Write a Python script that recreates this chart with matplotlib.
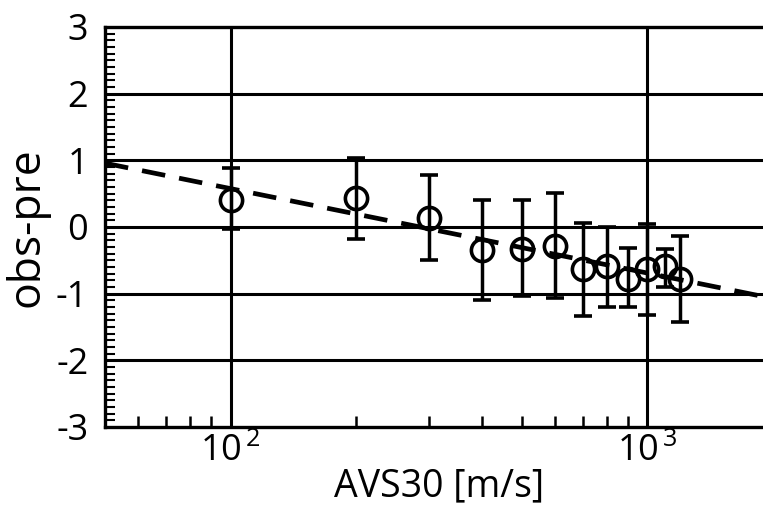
import numpy as np
import matplotlib
matplotlib.use("Agg")
import matplotlib.pyplot as plt
from matplotlib.ticker import MultipleLocator, LogLocator, FixedLocator, FuncFormatter

plt.rcParams['font.family'] = ['Open Sans', 'DejaVu Sans']
plt.rcParams['mathtext.fontset'] = 'custom'
plt.rcParams['mathtext.rm'] = 'Open Sans'
plt.rcParams['mathtext.it'] = 'Open Sans'
plt.rcParams['axes.unicode_minus'] = False

# Data
avs30 = [100, 200, 300, 400, 500, 600, 700, 800, 900, 1000, 1100, 1200]
mean_res = [0.40, 0.43, 0.135, -0.345, -0.33, -0.28, -0.63, -0.58, -0.78, -0.63, -0.58, -0.78]
err_top = [0.88, 1.03, 0.78, 0.40, 0.40, 0.51, 0.06, 0.00, -0.32, 0.04, -0.33, -0.13]
err_bot = [-0.03, -0.18, -0.49, -1.09, -1.03, -1.07, -1.33, -1.20, -1.20, -1.32, -0.90, -1.42]
fit_intercept = 3.11
fit_slope = -1.267
xlim = (50, 2000)
ylim = (-3, 3)
x_major = [100, 1000]
x_major_labels = [r'$10^{\,2}$', r'$10^{\,3}$']
y_major = [-3, -2, -1, 0, 1, 2, 3]

fig = plt.figure(figsize=(7.63, 5.07), dpi=100)
ax = fig.add_axes([105/763, 1-427/507, (773-105)/763, 400/507])

x = np.array(avs30, dtype=float)
m = np.array(mean_res)
yerr = np.vstack([m - np.array(err_bot), np.array(err_top) - m])

ax.set_xscale('log')
ax.set_xlim(*xlim)
ax.set_ylim(*ylim)

for gy in y_major[1:-1]:
    ax.axhline(gy, color='black', lw=2.2, zorder=1)
for gx in x_major:
    ax.axvline(gx, color='black', lw=2.2, zorder=1)

xf = np.logspace(np.log10(xlim[0]), np.log10(xlim[1]), 100)
ax.plot(xf, fit_intercept + fit_slope*np.log10(xf), color='black', lw=3.4,
        dashes=(5, 3), zorder=3)

ax.errorbar(x, m, yerr=yerr, fmt='o', mfc='none', mec='black', mew=2.6,
            ms=16, ecolor='black', elinewidth=2.5, capsize=6.5, capthick=2.5,
            color='black', zorder=4)

ax.yaxis.set_major_locator(FixedLocator(y_major))
ax.yaxis.set_minor_locator(MultipleLocator(0.1))
ax.set_xticks(x_major)
ax.set_xticklabels(x_major_labels)
ax.xaxis.set_minor_locator(LogLocator(base=10, subs=np.arange(2, 10), numticks=10))
ax.xaxis.set_minor_formatter(FuncFormatter(lambda v, p: ''))

ax.tick_params(which='both', direction='in', width=1.8, color='black')
ax.tick_params(which='major', length=8, labelsize=26)
ax.tick_params(axis='y', which='major', pad=12)
ax.tick_params(axis='x', which='major', pad=5)
ax.tick_params(which='minor', length=8)
ax.tick_params(axis='y', which='minor', length=7, width=1.5)

for s in ['left', 'bottom', 'top']:
    ax.spines[s].set_linewidth(2.4)
ax.spines['right'].set_visible(False)

ax.set_xlabel('AVS30 [m/s]', fontsize=27, labelpad=-2)
ax.set_ylabel('obs-pre', fontsize=32, labelpad=5)

fig.savefig('out.png', dpi=100)
